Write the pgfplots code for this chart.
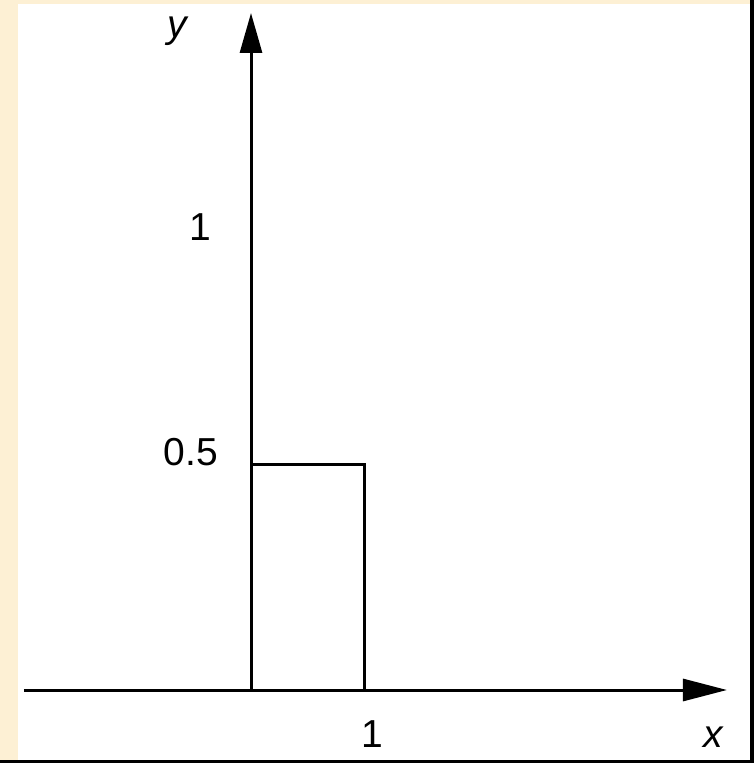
\documentclass[border=0pt]{standalone}
\usepackage{pgfplots}
\pgfplotsset{compat=1.18}
\usepackage{fontspec}
\setmainfont{Liberation Sans}
\usetikzlibrary{arrows.meta}
\definecolor{parch}{RGB}{253,240,212}
\newcommand{\lblfont}{\fontsize{39}{44}\selectfont}
\begin{document}
\begin{tikzpicture}
\fill[parch] (0pt,0pt) rectangle (754pt,763pt);
\fill[white] (18pt,3pt) rectangle (750pt,759pt);
\fill[black] (750pt,0pt) rectangle (754pt,763pt);
\fill[black] (0pt,0pt) rectangle (754pt,3pt);
\begin{axis}[
  at={(251pt,73pt)}, anchor=origin,
  scale only axis, width=703pt, height=677pt,
  xmin=-2.009, xmax=4.212, ymin=0, ymax=1.498,
  axis lines=middle,
  axis line style={line width=3pt, black},
  x axis line style={-{Triangle[length=44pt,width=22pt]}},
  y axis line style={-{Triangle[length=40pt,width=22pt]}},
  xtick=\empty, ytick=\empty,
  clip=false,
]
\addplot[black, line width=3pt, line join=miter] coordinates {(0,0) (0,0.5) (1,0.5) (1,0)};
\node[anchor=base east, inner sep=0pt, font=\lblfont] at ([xshift=-40pt,yshift=-2pt]axis cs:0,1) {1};
\node[anchor=base east, inner sep=0pt, font=\lblfont] at ([xshift=-33pt,yshift=-1pt]axis cs:0,0.5) {0.5};
\node[anchor=base, inner sep=0pt, font=\lblfont] at ([xshift=8pt,yshift=-57pt]axis cs:1,0) {1};
\node[anchor=base, inner sep=0pt, font=\lblfont\itshape] at ([xshift=462pt,yshift=-57pt]axis cs:0,0) {x};
\node[anchor=base, inner sep=0pt, font=\lblfont\itshape] at ([xshift=-74pt,yshift=652pt]axis cs:0,0) {y};
\end{axis}
\end{tikzpicture}
\end{document}
